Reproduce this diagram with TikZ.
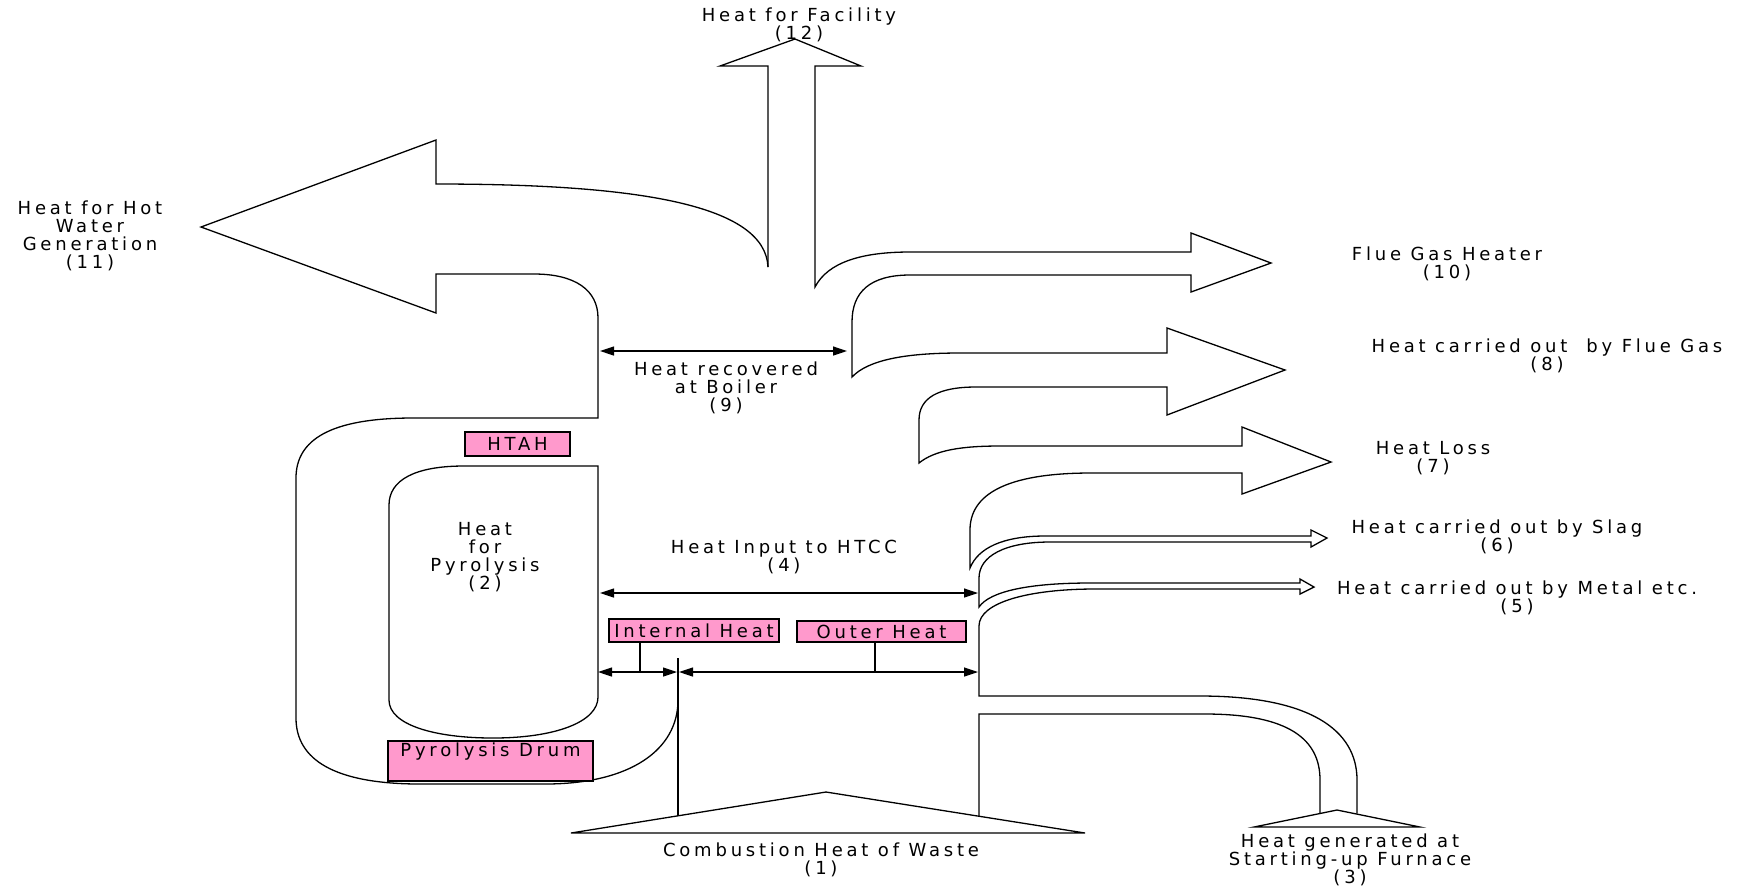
\documentclass[tikz,border=0pt]{standalone}
\usepackage{fontspec}
\setmainfont{DejaVu Sans}[LetterSpace=21]
\usetikzlibrary{arrows.meta}
\definecolor{boxpink}{RGB}{255,153,204}
\begin{document}
\begin{tikzpicture}[x=0.5pt,y=-0.5pt, line width=0.65pt,
  lbl/.style={font=\fontsize{9}{9}\selectfont, align=center, inner sep=0pt},
  pinkbox/.style={draw, fill=boxpink, inner sep=0pt, font=\fontsize{9}{9}\selectfont},
  flow/.style={draw, line join=miter},
  dim/.style={{Triangle[length=7pt,width=4.5pt]}-{Triangle[length=7pt,width=4.5pt]}}
]
\useasboundingbox (0,0) rectangle (1748,891);

% right-hand flow outline: (12) right edge, (10), (8), (7), (6), (5), (3) outer
\path[flow] (768,267) -- (768,66) -- (720,66) -- (795,39) -- (861,66) -- (815,66) -- (815,287)
  .. controls (828,262) and (862,252) .. (910,252) -- (1191,252) -- (1191,233) -- (1271,263)
  -- (1191,292) -- (1191,275) -- (910,275) .. controls (870,275) and (852,292) .. (852,322)
  -- (852,377) .. controls (868,360) and (905,353) .. (960,353) -- (1167,353) -- (1167,328)
  -- (1285,370) -- (1167,415) -- (1167,387) -- (976,387) .. controls (938,387) and (919,398) .. (919,420)
  -- (919,463) .. controls (935,450) and (962,446) .. (1000,446) -- (1242,446) -- (1242,427)
  -- (1331,462) -- (1242,494) -- (1242,473) -- (1091,473) .. controls (1005,473) and (970,495) .. (970,530)
  -- (970,568) .. controls (978,548) and (1003,536) .. (1045,536) -- (1311,536) -- (1311,530)
  -- (1327,538) -- (1311,547) -- (1311,542) -- (1050,542) .. controls (1005,542) and (979,556) .. (979,578)
  -- (979,607) .. controls (990,591) and (1030,583) .. (1090,583) -- (1300,583) -- (1300,579)
  -- (1314,587) -- (1300,594) -- (1300,589) -- (1095,589) .. controls (1030,589) and (979,602) .. (979,626)
  -- (979,696) -- (1200,696) .. controls (1310,696) and (1357,730) .. (1357,780) -- (1357,813.5);

% left-hand flow outline: (11) and outer loop round the pyrolysis drum
\path[flow] (768,267) .. controls (765,205) and (640,184) .. (436,184) -- (436,140) -- (201,227)
  -- (436,313) -- (436,274) -- (534,274) .. controls (575,274) and (598,290) .. (598,318)
  -- (598,418) -- (413,418) .. controls (330,418) and (296,440) .. (296,478) -- (296,718)
  .. controls (296,760) and (335,784) .. (420,784) -- (545,784) .. controls (630,784) and (678,750) .. (678,700);

% inner pyrolysis shape
\path[flow] (598,466) -- (464,466) .. controls (415,466) and (389,480) .. (389,505) -- (389,700)
  .. controls (389,725) and (435,738) .. (493,738) .. controls (555,738) and (598,722) .. (598,697) -- cycle;

% combustion triangle (1) and its walls
\path[flow] (571,833) -- (826,792) -- (1085,833) -- cycle;
\path[flow] (678,658) -- (678,815.8);
\path[flow] (979,816) -- (979,714) -- (1205,714) .. controls (1290,714) and (1320,740) .. (1320,780) -- (1320,813.5);
% starting-up furnace triangle (3)
\path[flow] (1254,827) -- (1337,810) -- (1420,827) -- cycle;

% dimension arrows
\coordinate (a9l) at (600,351);  \coordinate (a9r) at (847,351);
\coordinate (a4l) at (600,593);  \coordinate (a4r) at (978,593);
\coordinate (ail) at (598,672);  \coordinate (air) at (677,672);
\coordinate (aol) at (679,672);  \coordinate (aor) at (978,672);
\draw[dim] (a9l) -- (a9r);
\draw[dim] (a4l) -- (a4r);
\draw[dim] (ail) -- (air);
\draw[dim] (aol) -- (aor);

% pink boxes
\node[pinkbox, minimum width=52.5pt, minimum height=12pt] (htah) at (517.5,444) {HTAH};
\node[pinkbox, minimum width=85pt, minimum height=11.5pt] (intbox) at (694,630.5) {Internal Heat};
\node[pinkbox, minimum width=84.5pt, minimum height=10.5pt] (outbox) at (881.5,631.5) {Outer Heat};
\node[pinkbox, minimum width=102.5pt, minimum height=20pt] (drum) at (490.5,761) {};
\node[lbl] (drumtxt) at (490.5,752) {Pyrolysis Drum};

\coordinate (ti) at (640,672);
\coordinate (to) at (875,672);
\draw (intbox.south -| ti) -- (ti);
\draw (outbox.south -| to) -- (to);

% labels
\node[lbl] (l12) at (799,25) {Heat for Facility\\(12)};
\node[lbl] (l11) at (90,236) {Heat for Hot\\Water\\Generation\\(11)};
\node[lbl] (l10) at (1447,264) {Flue Gas Heater\\(10)};
\node[lbl] (l8) at (1547,356) {Heat carried out\ \ by Flue Gas\\(8)};
\node[lbl] (l9) at (726,388) {Heat recovered\\at Boiler\\(9)};
\node[lbl] (l7) at (1433,458) {Heat Loss\\(7)};
\node[lbl] (l6) at (1497,537) {Heat carried out by Slag\\(6)};
\node[lbl] (l5) at (1517,598) {Heat carried out by Metal etc.\\(5)};
\node[lbl] (l4) at (784,557) {Heat Input to HTCC\\(4)};
\node[lbl] (l2) at (485,557) {Heat\\for\\Pyrolysis\\(2)};
\node[lbl] (l1) at (821,860) {Combustion Heat of Waste\\(1)};
\node[lbl] (l3) at (1350,860) {Heat generated at\\Starting-up Furnace\\(3)};
\end{tikzpicture}
\end{document}
